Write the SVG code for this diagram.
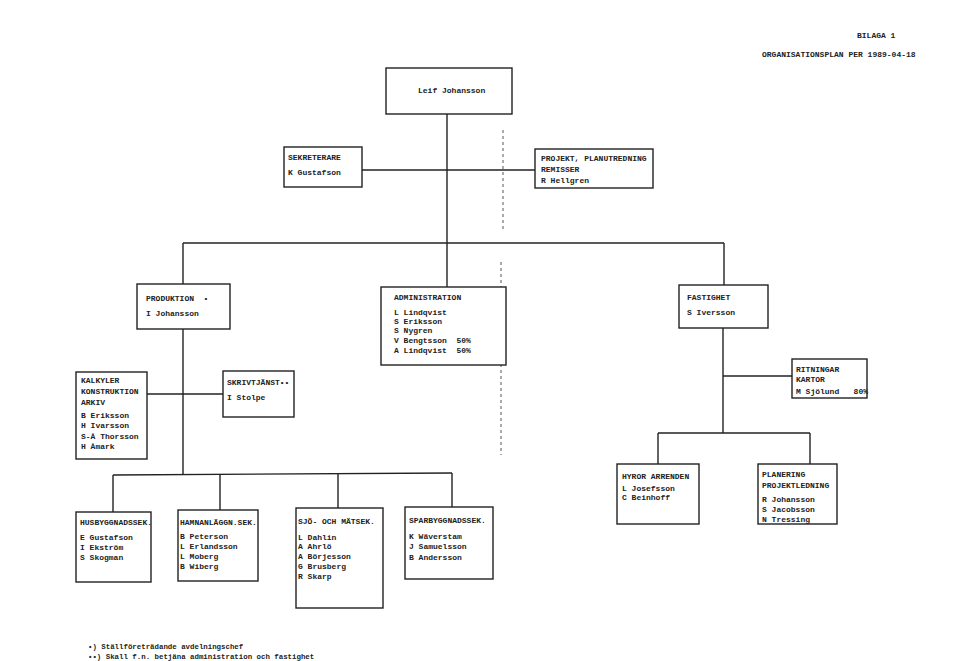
<svg xmlns="http://www.w3.org/2000/svg" width="960" height="661" viewBox="0 0 960 661">
<style>
  text { font-family: "Liberation Mono", "DejaVu Sans Mono", monospace; font-size: 8px; font-weight: bold; fill: #222; white-space: pre; }
  .small { font-size: 7.4px; }
  .box { fill: #fff; stroke: #222; stroke-width: 1.4; }
  .ln { stroke: #222; stroke-width: 1.4; fill: none; }
  .dash { stroke: #555; stroke-width: 1; stroke-dasharray: 3 3; fill: none; }
</style>
<rect width="960" height="661" fill="#fff"/>

<g id="header">
  <text x="857" y="38">BILAGA 1</text>
  <text x="762" y="57">ORGANISATIONSPLAN PER 1989-04-18</text>
</g>

<g id="connectors">
  <line class="ln" x1="447" y1="114" x2="447" y2="287"/>
  <line class="ln" x1="362" y1="170" x2="535" y2="170"/>
  <line class="ln" x1="183" y1="243" x2="724" y2="243"/>
  <line class="ln" x1="183" y1="243" x2="183" y2="284"/>
  <line class="ln" x1="724" y1="243" x2="724" y2="285"/>
  <line class="ln" x1="183" y1="329" x2="183" y2="475"/>
  <line class="ln" x1="147" y1="394" x2="223" y2="394"/>
  <line class="ln" x1="113" y1="475" x2="452" y2="473"/>
  <line class="ln" x1="113" y1="475" x2="113" y2="512"/>
  <line class="ln" x1="220" y1="474" x2="220" y2="510"/>
  <line class="ln" x1="338" y1="474" x2="338" y2="508"/>
  <line class="ln" x1="452" y1="473" x2="452" y2="507"/>
  <line class="ln" x1="723" y1="328" x2="723" y2="433"/>
  <line class="ln" x1="723" y1="376" x2="792" y2="376"/>
  <line class="ln" x1="658" y1="433" x2="810" y2="433"/>
  <line class="ln" x1="658" y1="433" x2="658" y2="464"/>
  <line class="ln" x1="810" y1="433" x2="810" y2="464"/>
  <line class="dash" x1="503" y1="130" x2="503" y2="230"/>
  <line class="dash" x1="501" y1="262" x2="501" y2="455"/>
</g>

<g id="leif">
  <rect class="box" x="386" y="68" width="126" height="46"/>
  <text x="418" y="93">Leif Johansson</text>
</g>

<g id="sekreterare">
  <rect class="box" x="284" y="147" width="78" height="40"/>
  <text x="288" y="160">SEKRETERARE</text>
  <text x="288" y="175">K Gustafson</text>
</g>

<g id="projekt">
  <rect class="box" x="535" y="149" width="118" height="39"/>
  <text x="541" y="161">PROJEKT, PLANUTREDNING</text>
  <text x="541" y="172">REMISSER</text>
  <text x="541" y="183">R Hellgren</text>
</g>

<g id="produktion">
  <rect class="box" x="137" y="284" width="93" height="45"/>
  <text x="146" y="301">PRODUKTION  •</text>
  <text x="146" y="316">I Johansson</text>
</g>

<g id="administration">
  <rect class="box" x="381" y="287" width="125" height="78"/>
  <text x="394" y="300">ADMINISTRATION</text>
  <text x="394" y="315">L Lindqvist</text>
  <text x="394" y="324">S Eriksson</text>
  <text x="394" y="333">S Nygren</text>
  <text x="394" y="343">V Bengtsson  50%</text>
  <text x="394" y="353">A Lindqvist  50%</text>
</g>

<g id="fastighet">
  <rect class="box" x="679" y="285" width="89" height="43"/>
  <text x="687" y="300">FASTIGHET</text>
  <text x="687" y="315">S Iversson</text>
</g>

<g id="kalkyler">
  <rect class="box" x="76" y="372" width="71" height="87"/>
  <text x="81" y="383">KALKYLER</text>
  <text x="81" y="394">KONSTRUKTION</text>
  <text x="81" y="405">ARKIV</text>
  <text x="81" y="418">B Eriksson</text>
  <text x="81" y="428">H Ivarsson</text>
  <text x="81" y="439">S-Å Thorsson</text>
  <text x="81" y="449">H Åmark</text>
</g>

<g id="skrivtjanst">
  <rect class="box" x="223" y="371" width="71" height="46"/>
  <text x="227" y="385">SKRIVTJÄNST••</text>
  <text x="227" y="400">I Stolpe</text>
</g>

<g id="ritningar">
  <rect class="box" x="792" y="359" width="75" height="39"/>
  <text x="796" y="372">RITNINGAR</text>
  <text x="796" y="382">KARTOR</text>
  <text x="796" y="394">M Sjölund   80%</text>
</g>

<g id="hyror">
  <rect class="box" x="617" y="464" width="82" height="60"/>
  <text x="622" y="479">HYROR ARRENDEN</text>
  <text x="622" y="491">L Josefsson</text>
  <text x="622" y="500">C Beinhoff</text>
</g>

<g id="planering">
  <rect class="box" x="758" y="464" width="79" height="60"/>
  <text x="762" y="477">PLANERING</text>
  <text x="762" y="488">PROJEKTLEDNING</text>
  <text x="762" y="502">R Johansson</text>
  <text x="762" y="512">S Jacobsson</text>
  <text x="762" y="522">N Tressing</text>
</g>

<g id="husbyggnad">
  <rect class="box" x="76" y="512" width="75" height="70"/>
  <text x="80" y="525">HUSBYGGNADSSEK.</text>
  <text x="80" y="540">E Gustafson</text>
  <text x="80" y="550">I Ekström</text>
  <text x="80" y="560">S Skogman</text>
</g>

<g id="hamnanlaggning">
  <rect class="box" x="178" y="510" width="80" height="71"/>
  <text x="180" y="525">HAMNANLÄGGN.SEK.</text>
  <text x="180" y="539">B Peterson</text>
  <text x="180" y="549">L Erlandsson</text>
  <text x="180" y="559">L Moberg</text>
  <text x="180" y="569">B Wiberg</text>
</g>

<g id="sjo-mat">
  <rect class="box" x="296" y="508" width="87" height="100"/>
  <text x="298" y="524">SJÖ- OCH MÄTSEK.</text>
  <text x="298" y="540">L Dahlin</text>
  <text x="298" y="549">A Ahrlö</text>
  <text x="298" y="559">A Börjesson</text>
  <text x="298" y="569">G Brusberg</text>
  <text x="298" y="579">R Skarp</text>
</g>

<g id="sparbyggnad">
  <rect class="box" x="405" y="507" width="88" height="72"/>
  <text x="409" y="523">SPARBYGGNADSSEK.</text>
  <text x="409" y="539">K Wäverstam</text>
  <text x="409" y="549">J Samuelsson</text>
  <text x="409" y="560">B Andersson</text>
</g>

<g id="footnotes">
  <text class="small" x="88" y="649">•) Ställföreträdande avdelningschef</text>
  <text class="small" x="88" y="659">••) Skall f.n. betjäna administration och fastighet</text>
</g>
</svg>
